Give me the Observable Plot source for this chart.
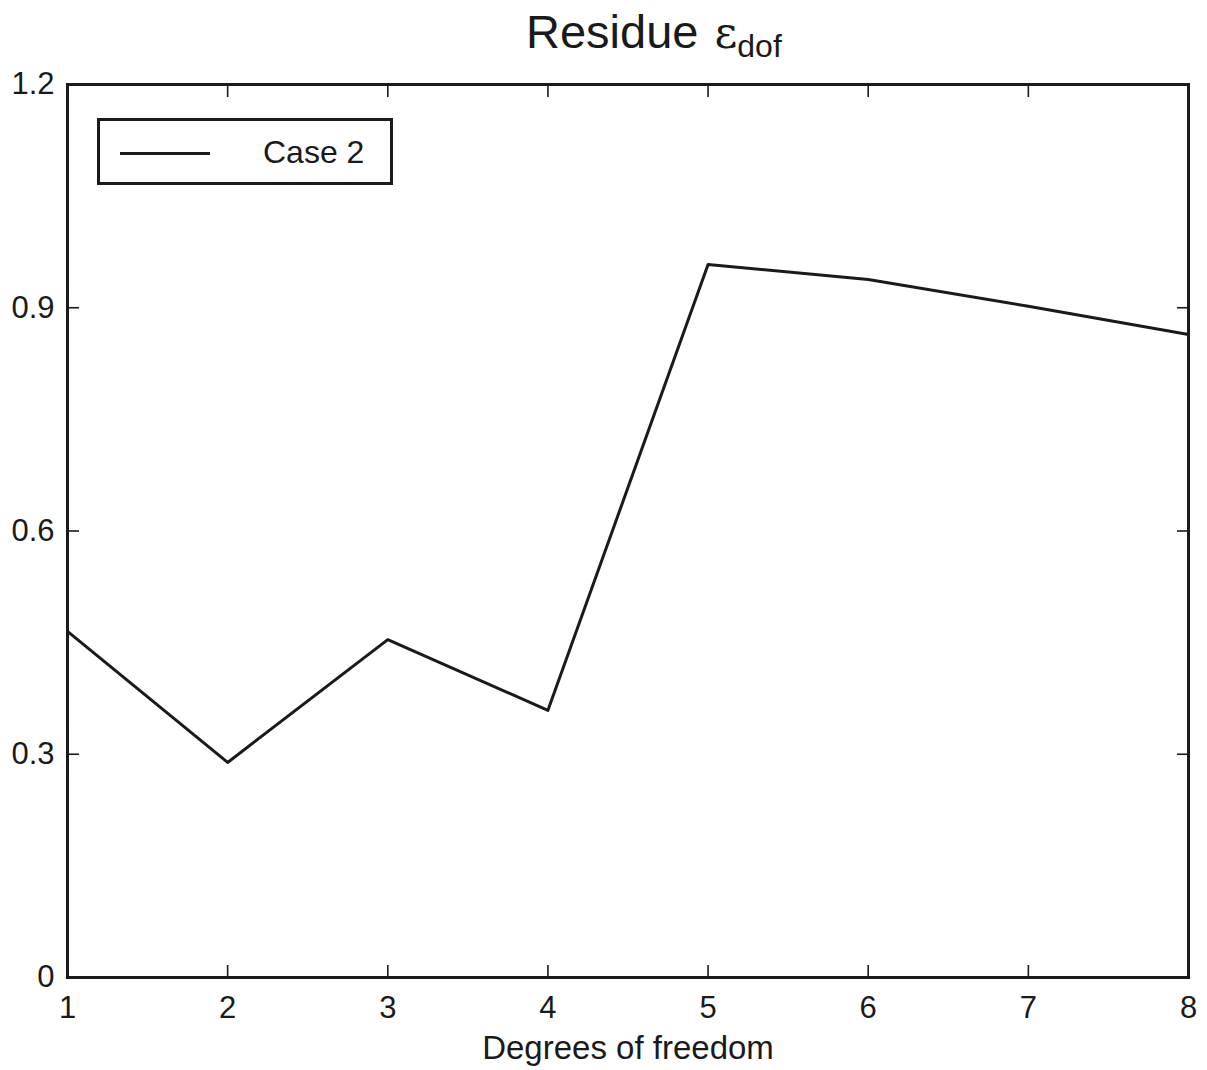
<!DOCTYPE html>
<html>
<head>
<meta charset="utf-8">
<script src="https://cdn.jsdelivr.net/npm/d3@7"></script>
<script src="https://cdn.jsdelivr.net/npm/@observablehq/plot@0.6"></script>
<style>
  body { margin: 0; background: #fff; font-family: "Liberation Sans", Arial, sans-serif; }
  #wrap { position: relative; width: 1207px; height: 1070px; }
  #title { height: 54px; position: relative; }
  #title .t { position: absolute; left: 526px; top: 8px; font-size: 47px; line-height: 1; color: #1a1a1a; white-space: nowrap; }
  #title .eps { font-family: 'DejaVu Serif','Liberation Serif',serif; font-size: 44px; margin-left: 3px; }
  #title sub { font-size: 32px; position: relative; top: 9px; vertical-align: baseline; }
  #legend { position: absolute; left: 97px; top: 118px; width: 290px; height: 61px; border: 3px solid #1a1a1a; background: #fff; }
  #legend .ln { position: absolute; left: 20px; top: 31px; width: 90px; height: 0; border-top: 3px solid #1a1a1a; }
  #legend .lb { position: absolute; left: 163px; top: 15px; font-size: 32px; line-height: 1; color: #1a1a1a; white-space: nowrap; }
  #chart svg { overflow: visible; }
</style>
</head>
<body>
<div id="wrap">
  <div id="title"><span class="t">Residue <span class="eps">ε</span><sub>dof</sub></span></div>
  <div id="chart"></div>
  <div id="legend"><div class="ln"></div><div class="lb">Case 2</div></div>
</div>
<script>
const dof = [1, 2, 3, 4, 5, 6, 7, 8];
const residue = [0.465, 0.289, 0.454, 0.359, 0.958, 0.938, 0.902, 0.864];
const xTicks = [1, 2, 3, 4, 5, 6, 7, 8];
const yTicks = [0, 0.3, 0.6, 0.9, 1.2];
const yTickLabels = ["0", "0.3", "0.6", "0.9", "1.2"];

const data = dof.map((d, i) => ({ dof: d, residue: residue[i] }));
const ink = "#1a1a1a";

const chart = Plot.plot({
  width: 1207,
  height: 1016,
  marginTop: 30,
  marginBottom: 93,
  marginLeft: 67,
  marginRight: 19,
  style: { fontFamily: "'Liberation Sans', Arial, sans-serif", color: ink, background: "#fff", overflow: "visible" },
  x: { domain: [1, 8] },
  y: { domain: [0, 1.2] },
  marks: [
    Plot.line(data, { x: "dof", y: "residue", stroke: ink, strokeWidth: 3 }),
    // inward ticks on all four sides
    Plot.axisX(xTicks, { anchor: "bottom", tickSize: -12, strokeWidth: 1.6, text: null, label: null }),
    Plot.axisX(xTicks, { anchor: "top", tickSize: -12, strokeWidth: 1.6, text: null, label: null }),
    Plot.axisY(yTicks, { anchor: "left", tickSize: -12, strokeWidth: 1.6, text: null, label: null }),
    Plot.axisY(yTicks, { anchor: "right", tickSize: -12, strokeWidth: 1.6, text: null, label: null }),
    // tick labels
    Plot.axisX(xTicks, { anchor: "bottom", tickSize: 0, tickPadding: 18, fontSize: 31, tickFormat: d => String(d),
      label: "Degrees of freedom", labelAnchor: "center", labelArrow: "none", labelOffset: 81 }),
    Plot.axisY(yTicks, { anchor: "left", tickSize: 0, tickPadding: 13, fontSize: 31,
      tickFormat: d => yTickLabels[yTicks.indexOf(d)], label: null }),
    Plot.frame({ stroke: ink, strokeWidth: 3 })
  ]
});
chart.querySelectorAll("g[aria-label='x-axis label']").forEach(e => e.setAttribute("font-size", 33));
document.getElementById("chart").appendChild(chart);
</script>
</body>
</html>
